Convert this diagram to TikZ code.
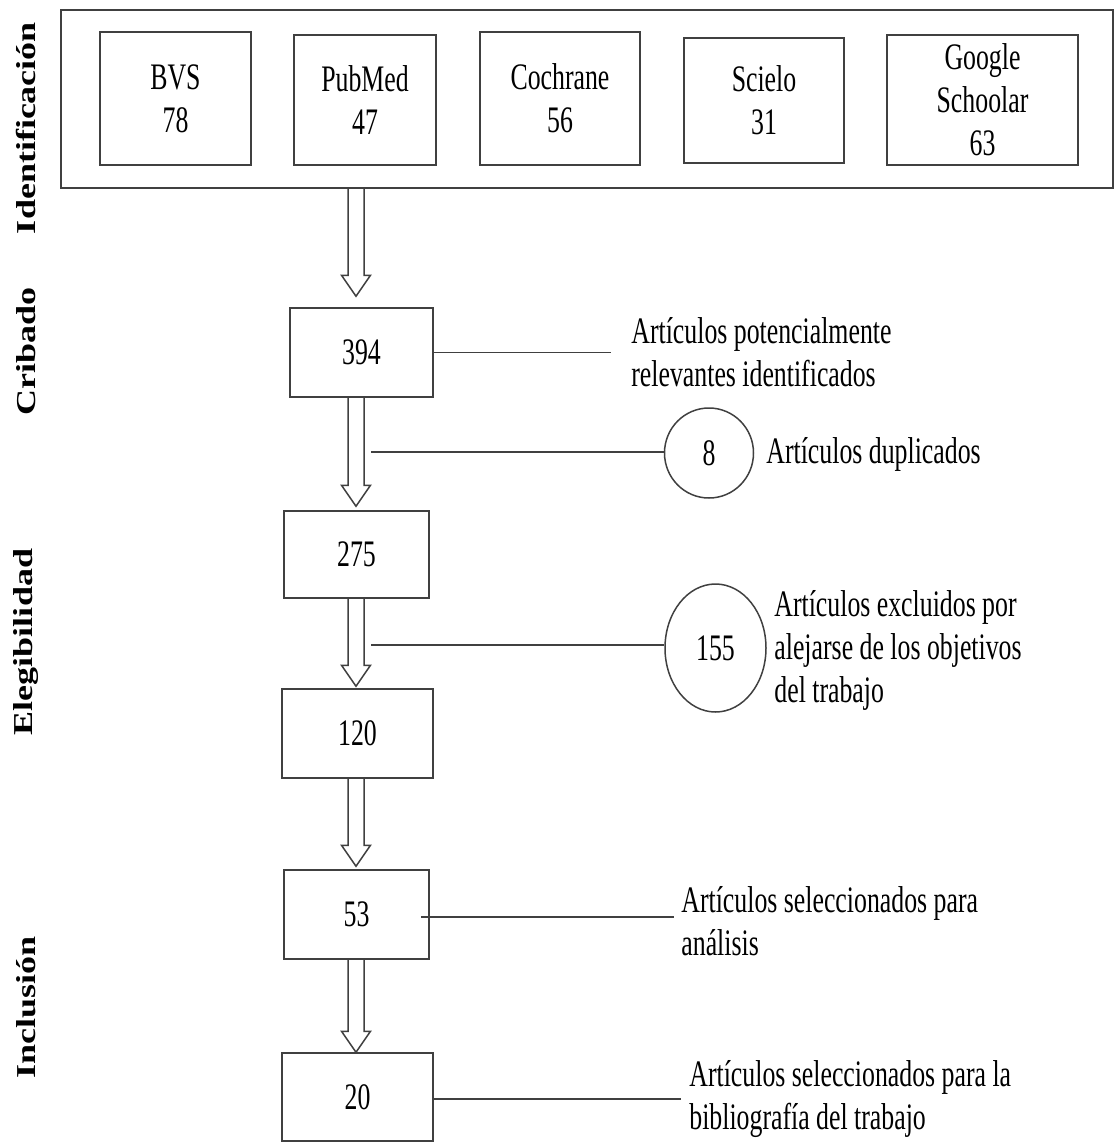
\documentclass[tikz,border=0pt]{standalone}
\usepackage{fontspec}
\usepackage{graphicx}
\setmainfont{Liberation Serif}[FakeStretch=0.69]
\newfontfamily\labelfont{Liberation Serif}
\usetikzlibrary{calc,shapes.geometric}
\newcommand\diagfont{\fontsize{18.7pt}{21.5pt}\selectfont}
\newcommand\flowarrow[3]{%
  \draw[blockarrow] ($(#1.south -| axis)+(-8,0)$) -- ($(#2.north -| axis)+(-8,-21-#3)$)
    -- ($(#2.north -| axis)+(-14.5,-21-#3)$) -- ($(#2.north -| axis)+(0,-#3)$)
    -- ($(#2.north -| axis)+(14.5,-21-#3)$) -- ($(#2.north -| axis)+(8,-21-#3)$)
    -- ($(#1.south -| axis)+(8,0)$);}
\tikzset{
  box/.style={draw=black!75, line width=0.75pt, rectangle, inner sep=0pt, align=center, font=\diagfont},
  roundbox/.style={draw=black!75, line width=0.75pt, ellipse, inner sep=0pt, align=center, font=\diagfont},
  note/.style={anchor=west, inner sep=0pt, align=left, font=\diagfont},
  conn/.style={draw=black!75, line width=0.75pt},
  blockarrow/.style={draw=black!75, line width=0.75pt, line join=miter},
  sidelabel/.style={rotate=90, inner sep=0pt, font={\labelfont\bfseries\fontsize{18pt}{20pt}\selectfont}}
}
\begin{document}
\begin{tikzpicture}[x=0.5pt,y=-0.5pt]
\useasboundingbox (0,0) rectangle (1116,1142);
\coordinate (axis) at (356,0);
% side labels
\node[sidelabel] (lid) at (26,128) {\scalebox{1}[0.76]{Identificación}};
\node[sidelabel] (lcr) at (26,351) {\scalebox{1}[0.76]{Cribado}};
\node[sidelabel] (lel) at (26,642) {\scalebox{1}[0.76]{Elegibilidad}};
\node[sidelabel] (lin) at (26,1007) {\scalebox{1}[0.76]{Inclusión}};
% identification
\node[box, minimum width=526pt, minimum height=89pt] (outer) at (587,99) {};
\node[box, minimum width=75.5pt, minimum height=66.5pt] (bvs) at (175.5,98.5) {BVS\\78};
\node[box, minimum width=71pt, minimum height=65pt] (pub) at (365,100) {PubMed\\47};
\node[box, minimum width=80pt, minimum height=66.5pt] (coc) at (560,98.5) {Cochrane\\56};
\node[box, minimum width=80pt, minimum height=62.5pt] (sci) at (764,100.5) {Scielo\\31};
\node[box, minimum width=95.5pt, minimum height=65pt] (goo) at (982.5,100) {Google\\Schoolar\\63};
% main column
\node[box, minimum width=71.5pt, minimum height=44.5pt] (b394) at (361.5,352.5) {394};
\node[box, minimum width=72.5pt, minimum height=43.5pt] (b275) at (356.5,554.5) {275};
\node[box, minimum width=75.5pt, minimum height=44.5pt] (b120) at (357.5,733.5) {120};
\node[box, minimum width=72.5pt, minimum height=44.5pt] (b53) at (356.5,914.5) {53};
\node[box, minimum width=75.5pt, minimum height=44pt] (b20) at (357.5,1097) {20};
% circles
\node[roundbox, minimum width=44.5pt, minimum height=45pt] (c8) at (709,453) {8};
\node[roundbox, minimum width=50.5pt, minimum height=64pt] (c155) at (715.5,648) {155};
% arrows
\flowarrow{outer}{b394}{11}
\flowarrow{b394}{b275}{4}
\flowarrow{b275}{b120}{2}
\flowarrow{b120}{b53}{3}
\flowarrow{b53}{b20}{0}
% notes
\node[note] (t394) at (631,352) {Artículos potencialmente\\relevantes identificados};
\node[note] (t8) at (766,454) {Artículos duplicados};
\node[note] (t155) at (774,650) {Artículos excluidos por\\alejarse de los objetivos\\del trabajo};
\node[note] (t53) at (681,921) {Artículos seleccionados para\\análisis};
\node[note] (t20) at (689,1099) {Artículos seleccionados para la\\bibliografía del trabajo};
% connector lines
\coordinate (e394) at (611,351);
\draw[conn] (b394.east) -- (b394.east -| e394);
\coordinate (s8) at (371,452);
\draw[conn] (s8) -- (s8 -| c8.west);
\coordinate (s155) at (371,645);
\draw[conn] (s155) -- (s155 -| c155.west);
\coordinate (s53) at (421,917);
\coordinate (e53) at (674,917);
\draw[conn] (s53) -- (e53);
\coordinate (e20) at (681,1099);
\draw[conn] (b20.east |- e20) -- (e20);
\end{tikzpicture}
\end{document}
